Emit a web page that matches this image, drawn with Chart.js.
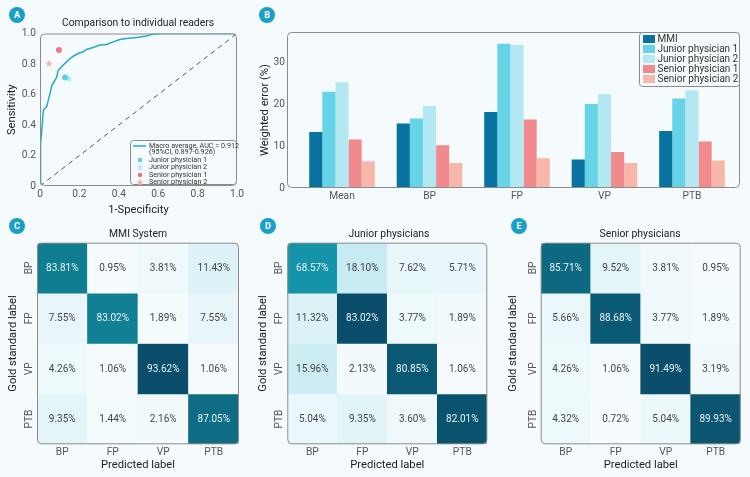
<!DOCTYPE html>
<html>
<head>
<meta charset="utf-8">
<script src="https://cdn.jsdelivr.net/npm/chart.js@4.4.1/dist/chart.umd.min.js"></script>
<style>
  body { margin: 0; background: #f5fbfd; font-family: Roboto, sans-serif; }
  #page { position: relative; width: 750px; height: 477px; overflow: hidden; }
  .box { position: absolute; }
  .badge { position: absolute; width: 16px; height: 16px; border-radius: 50%; background: #1a9fc7;
           color: #fff; font: bold 9px Roboto, sans-serif; text-align: center; line-height: 16px;
           transform: translate(-50%, -50%); }
  .ttl { position: absolute; font: 10.4px Roboto, sans-serif; color: #222; transform: translate(-50%, -50%); white-space: nowrap; }
</style>
</head>
<body>
<div id="page">
  <div class="box" style="left:0;top:0;width:250px;height:217px"><canvas id="roc"></canvas></div>
  <div class="box" style="left:250px;top:0;width:500px;height:205px"><canvas id="err"></canvas></div>
  <div class="box" style="left:0;top:218px;width:250px;height:259px"><canvas id="cmMmi"></canvas></div>
  <div class="box" style="left:250px;top:218px;width:250px;height:259px"><canvas id="cmJunior"></canvas></div>
  <div class="box" style="left:500px;top:218px;width:250px;height:259px"><canvas id="cmSenior"></canvas></div>

  <div class="ttl" style="left:138px;top:22px">Comparison to individual readers</div>
  <div class="ttl" style="left:138px;top:233px">MMI System</div>
  <div class="ttl" style="left:389px;top:233px">Junior physicians</div>
  <div class="ttl" style="left:640px;top:233px">Senior physicians</div>

  <div class="badge" style="left:17px;top:15px">A</div>
  <div class="badge" style="left:267px;top:15px">B</div>
  <div class="badge" style="left:17px;top:226px">C</div>
  <div class="badge" style="left:268px;top:226px">D</div>
  <div class="badge" style="left:519px;top:226px">E</div>
</div>
<script>
// ---- data ----
var rocFpr = [0, 0.003, 0.008, 0.017, 0.034, 0.042, 0.051, 0.059, 0.071, 0.084, 0.093, 0.101, 0.118, 0.135, 0.152, 0.169, 0.194, 0.22, 0.236, 0.27, 0.304, 0.338, 0.372, 0.405, 0.439, 0.49, 0.54, 0.566, 0.61, 1];
var rocTpr = [0, 0.28, 0.345, 0.498, 0.52, 0.563, 0.607, 0.655, 0.683, 0.712, 0.76, 0.771, 0.793, 0.814, 0.836, 0.851, 0.869, 0.88, 0.895, 0.908, 0.924, 0.928, 0.945, 0.961, 0.967, 0.974, 0.983, 0.993, 1, 1];

var readerNames = ["Junior physician 1", "Junior physician 2", "Senior physician 1", "Senior physician 2"];
var readerFpr = [0.127, 0.147, 0.096, 0.046];
var readerTpr = [0.712, 0.703, 0.891, 0.803];

var errorCategories = ["Mean", "BP", "FP", "VP", "PTB"];
var errorSeries = ["MMI", "Junior physician 1", "Junior physician 2", "Senior physician 1", "Senior physician 2"];
var mmiError = [13.4, 15.4, 18.2, 6.8, 13.6];
var junior1Error = [23.0, 16.6, 34.5, 20.1, 21.4];
var junior2Error = [25.3, 19.6, 34.2, 22.4, 23.4];
var senior1Error = [11.6, 10.2, 16.4, 8.6, 11.1];
var senior2Error = [6.4, 6.0, 7.1, 6.0, 6.6];
var errorTicks = [0, 10, 20, 30];

var classes = ["BP", "FP", "VP", "PTB"];
var mmiMatrix = [
  [83.81, 0.95, 3.81, 11.43],
  [7.55, 83.02, 1.89, 7.55],
  [4.26, 1.06, 93.62, 1.06],
  [9.35, 1.44, 2.16, 87.05]
];
var juniorMatrix = [
  [68.57, 18.10, 7.62, 5.71],
  [11.32, 83.02, 3.77, 1.89],
  [15.96, 2.13, 80.85, 1.06],
  [5.04, 9.35, 3.60, 82.01]
];
var seniorMatrix = [
  [85.71, 9.52, 3.81, 0.95],
  [5.66, 88.68, 3.77, 1.89],
  [4.26, 1.06, 91.49, 3.19],
  [4.32, 0.72, 5.04, 89.93]
];

Chart.defaults.font.family = "Roboto";
Chart.defaults.color = "#444";
Chart.defaults.animation = false;
Chart.defaults.maintainAspectRatio = false;

var axisTitleFont = { size: 11.2, weight: "normal" };
var tickFont = { size: 10.2 };

// rounded grey frame round the plot area
var framePlugin = {
  id: "frame",
  beforeDatasetsDraw: function(chart) {
    var a = chart.chartArea, ctx = chart.ctx;
    ctx.save();
    ctx.beginPath();
    ctx.roundRect(a.left, a.top, a.right - a.left, a.bottom - a.top, 4);
    ctx.clip();
  },
  afterDatasetsDraw: function(chart) {
    var a = chart.chartArea, ctx = chart.ctx;
    ctx.restore();
    ctx.save();
    ctx.strokeStyle = "#8c8c8c";
    ctx.lineWidth = 1;
    ctx.beginPath();
    ctx.roundRect(a.left + 0.5, a.top + 0.5, a.right - a.left - 1, a.bottom - a.top - 1, 4);
    ctx.stroke();
    ctx.restore();
  }
};

function makeStar(color, r) {
  var c = document.createElement("canvas");
  c.width = c.height = r * 2 + 2;
  var g = c.getContext("2d");
  g.fillStyle = color;
  g.beginPath();
  for (var i = 0; i < 10; i++) {
    var ang = -Math.PI / 2 + i * Math.PI / 5;
    var rr = i % 2 === 0 ? r : r * 0.42;
    g.lineTo(r + 1 + rr * Math.cos(ang), r + 1 + rr * Math.sin(ang));
  }
  g.closePath();
  g.fill();
  return c;
}

var readerColors = ["#5ccfe2", "#b3e8f2", "#ef7680", "#f6b2a6"];
var readerStyles = ["circle", makeStar(readerColors[1], 4), "circle", makeStar(readerColors[3], 4)];

// ---- A: ROC ----
var rocLegend = {
  id: "rocLegend",
  afterDraw: function(chart) {
    var ctx = chart.ctx;
    ctx.save();
    ctx.strokeStyle = "#8c8c8c";
    ctx.fillStyle = "rgba(245,251,253,0.9)";
    ctx.beginPath();
    ctx.roundRect(130.5, 140.5, 106, 44, 3);
    ctx.fill();
    ctx.stroke();
    ctx.font = "7.2px Roboto";
    ctx.textBaseline = "middle";
    ctx.fillStyle = "#333";
    var ds = chart.data.datasets;
    ctx.strokeStyle = ds[0].borderColor;
    ctx.lineWidth = 1.5;
    ctx.beginPath(); ctx.moveTo(133, 146); ctx.lineTo(146, 146); ctx.stroke();
    ctx.fillText(ds[0].label, 149, 146);
    ctx.fillText(ds[0].subLabel, 149, 152.5);
    var rows = [160, 167.5, 175, 182.5];
    for (var i = 0; i < 4; i++) {
      var d = ds[i + 2];
      if (d.pointStyle === "circle") {
        ctx.fillStyle = d.backgroundColor;
        ctx.beginPath(); ctx.arc(140, rows[i], 2.3, 0, Math.PI * 2); ctx.fill();
      } else {
        ctx.drawImage(d.pointStyle, 140 - d.pointStyle.width / 2, rows[i] - d.pointStyle.height / 2);
      }
      ctx.fillStyle = "#333";
      ctx.fillText(d.label, 149, rows[i]);
    }
    ctx.restore();
  }
};

var rocDatasets = [
  { label: "Macro average, AUC = 0.912", subLabel: "(95%CI, 0.897-0.926)",
    data: rocFpr.map(function(x, i) { return { x: x, y: rocTpr[i] }; }),
    showLine: true, pointRadius: 0, borderColor: "#26a8c6", borderWidth: 1.5, clip: 2 },
  { data: [{ x: 0, y: 0 }, { x: 1, y: 1 }], showLine: true, pointRadius: 0,
    borderColor: "#555", borderWidth: 1, borderDash: [5, 4] }
];
readerNames.forEach(function(n, i) {
  rocDatasets.push({ label: n, data: [{ x: readerFpr[i], y: readerTpr[i] }],
    pointStyle: readerStyles[i], pointRadius: 3, backgroundColor: readerColors[i], borderWidth: 0 });
});

var unitTicks = [0, 0.2, 0.4, 0.6, 0.8, 1.0];
function unitLabel(v) { return v === 0 ? "0" : v.toFixed(1); }

new Chart(document.getElementById("roc"), {
  type: "scatter",
  data: { datasets: rocDatasets },
  options: {
    layout: { padding: { top: 33.5, right: 13, left: 0, bottom: 0 } },
    plugins: { legend: { display: false }, tooltip: { enabled: false } },
    scales: {
      x: { type: "linear", min: 0, max: 1,
        afterBuildTicks: function(s) { s.ticks = unitTicks.map(function(v) { return { value: v }; }); },
        afterFit: function(s) { s.height = 31; },
        ticks: { callback: unitLabel, font: tickFont, color: "#555", padding: 2 },
        grid: { display: false, drawTicks: false }, border: { display: false },
        title: { display: true, text: "1-Specificity", font: axisTitleFont, color: "#222", padding: { bottom: 0.4, top: 0 } } },
      y: { type: "linear", min: 0, max: 1,
        afterBuildTicks: function(s) { s.ticks = unitTicks.map(function(v) { return { value: v }; }); },
        afterFit: function(s) { s.width = 40; },
        ticks: { callback: unitLabel, font: tickFont, color: "#555", padding: 4 },
        grid: { display: false, drawTicks: false }, border: { display: false },
        title: { display: true, text: "Sensitivity", font: axisTitleFont, color: "#222", padding: { top: 5.4, bottom: 0 } } }
    }
  },
  plugins: [framePlugin, rocLegend]
});

// ---- B: weighted error bars ----
var errorColors = ["#0a72a0", "#66d3e6", "#b3e8f2", "#f08a8c", "#f7b8ab"];
var errorValues = [mmiError, junior1Error, junior2Error, senior1Error, senior2Error];

var errLegend = {
  id: "errLegend",
  afterDraw: function(chart) {
    var ctx = chart.ctx, a = chart.chartArea;
    var x0 = a.right - 101, y0 = a.top;
    ctx.save();
    ctx.strokeStyle = "#8c8c8c";
    ctx.fillStyle = "rgba(245,251,253,0.9)";
    ctx.beginPath();
    ctx.roundRect(x0 + 0.5, y0 + 0.5, 100, 54, 3);
    ctx.fill();
    ctx.stroke();
    ctx.font = "10px Roboto";
    ctx.textBaseline = "middle";
    chart.data.datasets.forEach(function(d, i) {
      var yy = y0 + 7 + i * 10;
      ctx.fillStyle = d.backgroundColor;
      ctx.fillRect(x0 + 4, yy - 4, 12, 8);
      ctx.fillStyle = "#333";
      ctx.fillText(d.label, x0 + 18.5, yy);
    });
    ctx.restore();
  }
};

new Chart(document.getElementById("err"), {
  type: "bar",
  data: {
    datasets: errorSeries.map(function(s, k) {
      return { label: s, backgroundColor: errorColors[k], borderWidth: 0,
        data: errorValues[k].map(function(v, i) { return { x: i, y: v }; }),
        categoryPercentage: 0.75, barPercentage: 1 };
    })
  },
  options: {
    layout: { padding: { top: 32, right: 10, left: 0, bottom: 0 } },
    plugins: { legend: { display: false }, tooltip: { enabled: false } },
    scales: {
      x: { type: "linear", min: -0.629, max: 4.549, offset: false,
        afterBuildTicks: function(s) { s.ticks = errorCategories.map(function(c, i) { return { value: i }; }); },
        afterFit: function(s) { s.height = 17; },
        ticks: { callback: function(v) { return errorCategories[v]; }, font: tickFont, color: "#555", padding: 2 },
        grid: { display: false, drawTicks: false }, border: { display: false } },
      y: { min: 0, max: 37.3,
        afterBuildTicks: function(s) { s.ticks = errorTicks.map(function(v) { return { value: v }; }); },
        afterFit: function(s) { s.width = 37; },
        ticks: { font: tickFont, color: "#555", padding: 2 },
        grid: { display: false, drawTicks: false }, border: { display: false },
        title: { display: true, text: "Weighted error (%)", font: axisTitleFont, color: "#222", padding: { top: 8.4, bottom: 0 } } }
    }
  },
  plugins: [framePlugin, errLegend]
});

// ---- C/D/E: confusion matrices ----
var cmStops = [[0, [247, 252, 253]], [0.1, [228, 245, 249]], [0.22, [198, 235, 242]], [0.5, [94, 195, 214]],
               [0.82, [21, 150, 171]], [0.9, [16, 123, 143]], [0.95, [12, 98, 124]], [1, [10, 78, 107]]];
function cmColor(t) {
  for (var i = 1; i < cmStops.length; i++) {
    if (t <= cmStops[i][0]) {
      var a = cmStops[i - 1], b = cmStops[i], f = (t - a[0]) / (b[0] - a[0]);
      var c = a[1].map(function(v, k) { return Math.round(v + (b[1][k] - v) * f); });
      return "rgb(" + c.join(",") + ")";
    }
  }
  return "rgb(10,78,107)";
}

var cellText = {
  id: "cellText",
  afterDatasetsDraw: function(chart) {
    var ctx = chart.ctx;
    ctx.save();
    ctx.font = "10px Roboto";
    ctx.textAlign = "center";
    ctx.textBaseline = "middle";
    chart.data.datasets.forEach(function(d, r) {
      chart.getDatasetMeta(r).data.forEach(function(el, j) {
        ctx.fillStyle = d.textColors[j];
        ctx.fillText(d.values[j].toFixed(2) + "%", el.x, (el.y + el.base) / 2 + 0.5);
      });
    });
    ctx.restore();
  }
};

var mctx = document.createElement("canvas").getContext("2d");
mctx.font = "10.2px Roboto";
var widestRow = Math.max.apply(null, classes.map(function(c) { return mctx.measureText(c).width; }));

function drawMatrix(id, matrix, chartLeft, chartRight) {
  var maxV = Math.max.apply(null, matrix.map(function(r) { return Math.max.apply(null, r); }));
  new Chart(document.getElementById(id), {
    type: "bar",
    data: {
      labels: classes,
      datasets: matrix.map(function(row, r) {
        return {
          data: row.map(function() { return [3 - r, 4 - r]; }),
          values: row,
          backgroundColor: row.map(function(v) { return cmColor(v / maxV); }),
          textColors: row.map(function(v) { return v / maxV > 0.5 ? "#e9f3f5" : "#444"; }),
          borderWidth: 0, grouped: false, barPercentage: 1, categoryPercentage: 1
        };
      })
    },
    options: {
      layout: { padding: { top: 24.7, right: 250 - chartRight, left: 0, bottom: 0 } },
      plugins: { legend: { display: false }, tooltip: { enabled: false } },
      scales: {
        x: { afterFit: function(s) { s.height = 32.7; },
          ticks: { font: tickFont, color: "#555", padding: 2 },
          grid: { display: false, drawTicks: false }, border: { display: false },
          title: { display: true, text: "Predicted label", font: axisTitleFont, color: "#222", padding: { top: 0, bottom: 4.7 } } },
        y: { min: 0, max: 4,
          afterBuildTicks: function(s) { s.ticks = [3.5, 2.5, 1.5, 0.5].map(function(v) { return { value: v }; }); },
          afterFit: function(s) { s.width = chartLeft; },
          ticks: { callback: function(v) { return classes[3 - Math.floor(v)]; }, minRotation: 90, maxRotation: 90,
                   crossAlign: "center", autoSkip: false, font: tickFont, color: "#555",
                   padding: 7.5 - widestRow / 2 },
          grid: { display: false, drawTicks: false }, border: { display: false },
          title: { display: true, text: "Gold standard label", font: axisTitleFont, color: "#222", padding: { top: 6.8, bottom: 0 } } }
      }
    },
    plugins: [framePlugin, cellText]
  });
}

drawMatrix("cmMmi", mmiMatrix, 37, 239);
drawMatrix("cmJunior", juniorMatrix, 37.3, 237.3);
drawMatrix("cmSenior", seniorMatrix, 40.7, 240.7);
</script>
</body>
</html>
